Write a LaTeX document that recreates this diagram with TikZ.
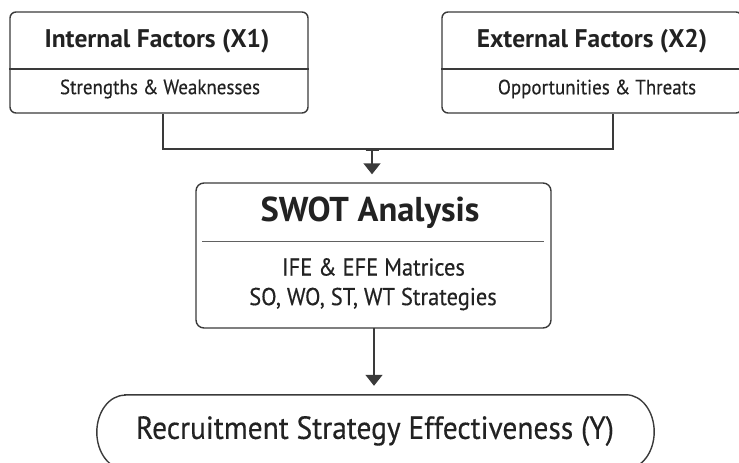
\documentclass[tikz,border=0pt]{standalone}
\usepackage{fontspec}
\setmainfont{PT Sans}
\newfontfamily\medfont[FakeBold=0.4,FakeStretch=0.92]{PT Sans}
\usetikzlibrary{arrows.meta}
\definecolor{inkline}{HTML}{3A3A3A}
\definecolor{inktext}{HTML}{222222}
\begin{document}
\begin{tikzpicture}[x=1pt,y=1pt,
  panel/.style={draw=inkline, line width=1.4pt, rounded corners=6pt, inner sep=0pt},
  title/.style={text=inktext, font=\bfseries\fontsize{25.5}{30}\selectfont, inner sep=0pt},
  subline/.style={text=inktext, font=\medfont\fontsize{20.6}{25}\selectfont, inner sep=0pt},
  wire/.style={draw=inkline, line width=1.4pt},
  flow/.style={wire, -{Triangle[length=11pt,width=17pt]}}]
  \useasboundingbox (0,0) rectangle (739,-463);

  % factor boxes
  \node[panel, minimum width=298pt, minimum height=101pt] (inbox) at (159,-62.5) {};
  \node[panel, minimum width=300pt, minimum height=101pt] (exbox) at (592,-62.5) {};
  \draw[wire] (inbox.west |- 0,-69) -- (inbox.east |- 0,-69);
  \draw[wire] (exbox.west |- 0,-69) -- (exbox.east |- 0,-69);
  \node[title] (intitle) at (157,-41) {Internal Factors (X1)};
  \node[subline] (insub) at (160,-89) {Strengths \& Weaknesses};
  \node[title] (extitle) at (592,-41) {External Factors (X2)};
  \node[subline] (exsub) at (597,-89) {Opportunities \& Threats};

  % SWOT box
  \node[panel, rounded corners=8pt, minimum width=355pt, minimum height=145pt] (swot) at (373.5,-255.5) {};
  \draw[draw=inkline!80, line width=1pt] (202,-241) -- (544,-241);
  \node[text=inktext, font=\bfseries\fontsize{34.5}{40}\selectfont, inner sep=0pt] (swottitle) at (370,-213) {SWOT Analysis};
  \node[subline, font=\medfont\fontsize{24.4}{29}\selectfont] (ife) at (373.5,-267) {IFE \& EFE Matrices};
  \node[subline, font=\medfont\fontsize{24.4}{29}\selectfont] (strat) at (373,-299) {SO, WO, ST, WT Strategies};

  % outcome: a capsule with flattened elliptical ends
  \node[inner sep=0pt, minimum width=557pt, minimum height=74pt] (outcome) at (375.5,-432) {};
  \draw[draw=inkline, line width=1.4pt]
    ([xshift=28pt]outcome.north west) -- ([xshift=-28pt]outcome.north east)
    arc[start angle=90, end angle=-90, x radius=28pt, y radius=37pt]
    -- ([xshift=28pt]outcome.south west)
    arc[start angle=270, end angle=90, x radius=28pt, y radius=37pt] -- cycle;
  \node[text=inktext, font=\medfont\fontsize{32}{38}\selectfont, inner sep=0pt] (outtext) at (375,-431) {Recruitment Strategy Effectiveness (Y)};

  % connectors
  \coordinate (jl) at (163,-149);
  \coordinate (jr) at (613,-149);
  \coordinate (jm) at (372,-150);
  \coordinate (jb) at (374,-328);
  \draw[wire] (inbox.south -| jl) -- (jl) -- (jr) -- (exbox.south -| jr);
  \draw[flow, {Bar[width=13pt,line width=1.4pt]}-{Triangle[length=11pt,width=17pt]}, shorten >=8pt] (jm) -- (swot.north -| jm);
  \draw[flow, shorten >=9pt] (jb) -- (outcome.north -| jb);
\end{tikzpicture}
\end{document}
